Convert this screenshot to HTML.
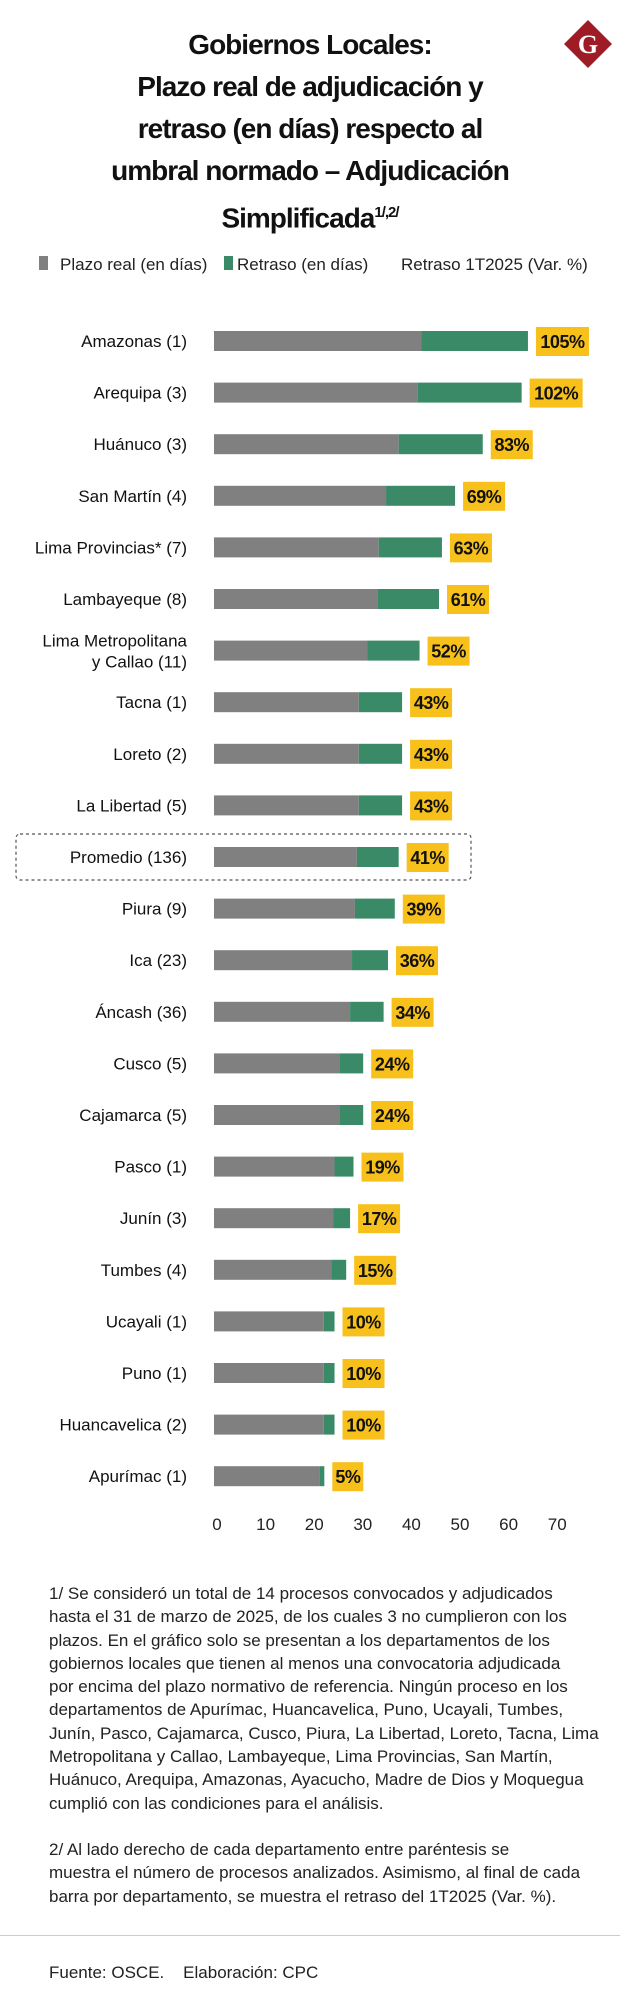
<!DOCTYPE html>
<html><head><meta charset="utf-8">
<style>
body{margin:0;background:#fff;width:620px;height:2014px;overflow:hidden;font-family:"Liberation Sans",sans-serif;color:#111;position:relative}
.t{position:absolute;left:0;width:620px;text-align:center;font-weight:bold;font-size:28px;letter-spacing:-1px;line-height:42px;top:24px}
.note{position:absolute;left:49px;font-size:17px;line-height:23.3px;white-space:nowrap;letter-spacing:0px;color:#222}
</style></head><body>
<div class="t">Gobiernos Locales:<br>Plazo real de adjudicación y<br>retraso (en días) respecto al<br>umbral normado – Adjudicación<br>Simplificada<sup style="font-size:15px">1/,2/</sup></div>
<svg style="position:absolute;left:563px;top:20px" width="50" height="50">
<polygon points="25,0 49,24 25,48 1,24" fill="#9e1c25"/>
<text x="25" y="33" text-anchor="middle" font-family="Liberation Serif,serif" font-weight="bold" font-size="26" fill="#fff">G</text></svg>
<svg id="chart" style="position:absolute;left:0;top:0" width="620" height="1560" font-family="Liberation Sans, sans-serif"></svg>
<div class="note" style="top:1582px">1/ Se consideró un total de 14 procesos convocados y adjudicados<br>hasta el 31 de marzo de 2025, de los cuales 3 no cumplieron con los<br>plazos. En el gráfico solo se presentan a los departamentos de los<br>gobiernos locales que tienen al menos una convocatoria adjudicada<br>por encima del plazo normativo de referencia. Ningún proceso en los<br>departamentos de Apurímac, Huancavelica, Puno, Ucayali, Tumbes,<br>Junín, Pasco, Cajamarca, Cusco, Piura, La Libertad, Loreto, Tacna, Lima<br>Metropolitana y Callao, Lambayeque, Lima Provincias, San Martín,<br>Huánuco, Arequipa, Amazonas, Ayacucho, Madre de Dios y Moquegua<br>cumplió con las condiciones para el análisis.</div>
<div class="note" style="top:1838px">2/ Al lado derecho de cada departamento entre paréntesis se<br>muestra el número de procesos analizados. Asimismo, al final de cada<br>barra por departamento, se muestra el retraso del 1T2025 (Var. %).</div>
<div style="position:absolute;left:0;top:1935px;width:620px;height:1px;background:#ccc"></div>
<div class="note" style="top:1961px">Fuente: OSCE.&nbsp;&nbsp;&nbsp;&nbsp;Elaboración: CPC</div>
<script>
const categories=["Amazonas (1)","Arequipa (3)","Huánuco (3)","San Martín (4)","Lima Provincias* (7)","Lambayeque (8)","Lima Metropolitana|y Callao (11)","Tacna (1)","Loreto (2)","La Libertad (5)","Promedio (136)","Piura (9)","Ica (23)","Áncash (36)","Cusco (5)","Cajamarca (5)","Pasco (1)","Junín (3)","Tumbes (4)","Ucayali (1)","Puno (1)","Huancavelica (2)","Apurímac (1)"];
const plazo=[42.7,41.9,38.0,35.4,33.9,33.6,31.5,29.8,29.8,29.8,29.4,29.0,28.4,28.0,25.8,25.8,24.8,24.5,24.1,22.6,22.6,22.6,21.8];
const retraso=[21.9,21.4,17.3,14.2,13.0,12.7,10.8,8.9,8.9,8.9,8.6,8.2,7.4,6.9,4.9,4.9,3.9,3.5,3.1,2.2,2.2,2.2,0.9];
const varPct=["105%","102%","83%","69%","63%","61%","52%","43%","43%","43%","41%","39%","36%","34%","24%","24%","19%","17%","15%","10%","10%","10%","5%"];
const ticks=[0,10,20,30,40,50,60,70];
const svg=document.getElementById('chart');
const NS='http://www.w3.org/2000/svg';
const x=v=>214+v*4.86;
const y=i=>341+i*51.6;
function mk(tag,at,parent){const e=document.createElementNS(NS,tag);for(const k in at)e.setAttribute(k,at[k]);(parent||svg).appendChild(e);return e;}
let e;
e=mk('rect',{x:39,y:256,width:9,height:14,fill:'#808080'});


e=mk('text',{x:60,y:270,'font-size':17,fill:'#222'});e.textContent='Plazo real (en días)';


e=mk('rect',{x:224,y:256,width:9,height:14,fill:'#3a8a68'});


e=mk('text',{x:237,y:270,'font-size':17,fill:'#222'});e.textContent='Retraso (en días)';


e=mk('text',{x:401,y:270,'font-size':17,fill:'#222'});e.textContent='Retraso 1T2025 (Var. %)';


const pi=categories.indexOf('Promedio (136)');
e=mk('rect',{x:16,y:y(pi)-23,width:455,height:46,rx:4,fill:'none',stroke:'#555','stroke-width':1.2,'stroke-dasharray':'3,3'});


categories.forEach((c,i)=>{
  const cy=y(i);
  const lines=c.split('|');
  e=mk('text',{x:187,y:lines.length>1?cy-4:cy+6,'text-anchor':'end','font-size':17,fill:'#111'});
  
  
  if(lines.length>1){e.innerHTML='<tspan x="187">'+lines[0]+'</tspan><tspan x="187" dy="21">'+lines[1]+'</tspan>';}else e.textContent=c;
  e=mk('rect',{x:x(0),y:cy-10,width:x(plazo[i])-x(0),height:20,fill:'#808080'});
  
  
  const end=plazo[i]+retraso[i];
  e=mk('rect',{x:x(plazo[i]),y:cy-10,width:x(end)-x(plazo[i]),height:20,fill:'#3a8a68'});
  
  
  const w=varPct[i].length*11+9;
  e=mk('rect',{x:x(end)+8,y:cy-14,width:w,height:29,fill:'#f7c01b'});
  
  
  e=mk('text',{x:x(end)+8+w/2,y:cy+7,'text-anchor':'middle','font-size':18,'font-weight':'bold',fill:'#111','letter-spacing':'-0.5'});
  e.textContent=varPct[i];
  
  
});
ticks.forEach(t=>{
  e=mk('text',{x:x(t)+3,y:1530,'text-anchor':'middle','font-size':17,fill:'#222'});
  e.textContent=t;
  
  
});
</script>
</body></html>
